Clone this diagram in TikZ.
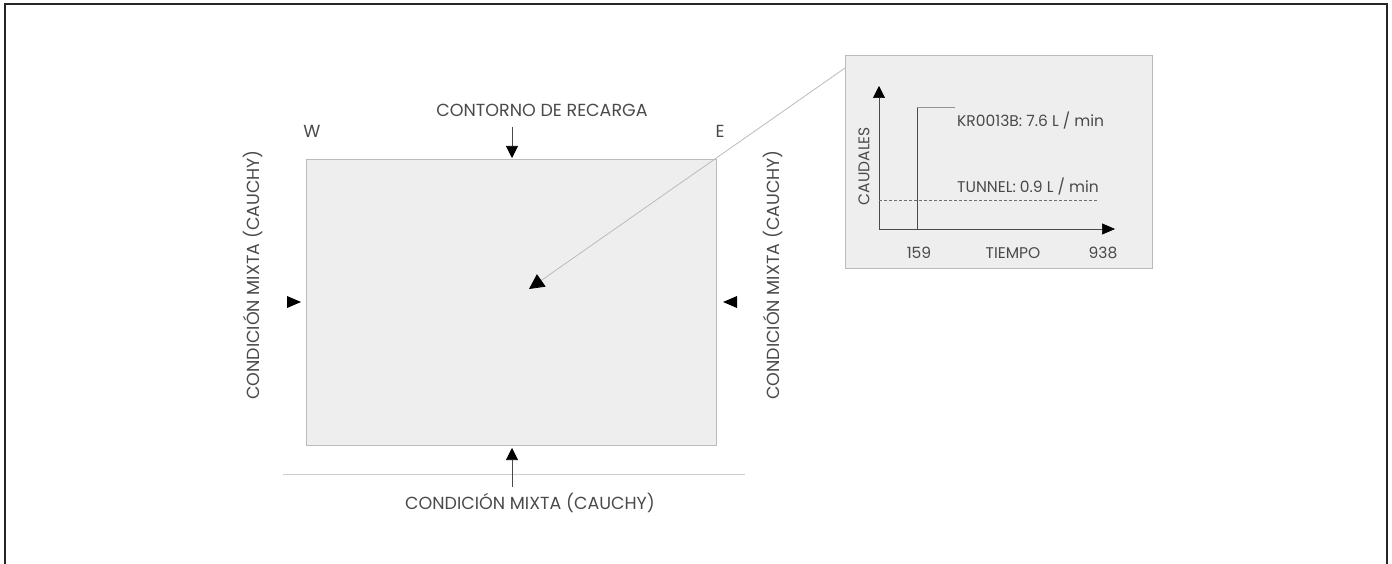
\documentclass[tikz,border=0pt]{standalone}
\usepackage{fontspec}
\setmainfont{Poppins}
\usetikzlibrary{arrows.meta}
\definecolor{boxfill}{HTML}{EEEEEE}
\definecolor{boxline}{HTML}{BBBBBB}
\definecolor{txt}{HTML}{4A4A4A}
\begin{document}
\begin{tikzpicture}[x=1pt,y=-1pt,
  lbl/.style={text=txt,font=\fontsize{17.5}{20}\selectfont,inner sep=0pt},
  small/.style={text=txt,font=\fontsize{15.5}{18}\selectfont,inner sep=0pt},
  arr/.style={draw=txt,line width=0.6pt,-{Triangle[length=12pt,width=12pt,color=black]}},
  panel/.style={draw=boxline,fill=boxfill,line width=1pt}]
\useasboundingbox (0,0) rectangle (1392,564);
\begin{scope}
\clip (0,0) rectangle (1392,564);
\draw[line width=2pt,black!85] (5,4.5) rectangle (1387,600);
\end{scope}
% main box
\node[panel,minimum width=410pt,minimum height=286pt,inner sep=0pt,anchor=north west] (dom) at (306,159) {};
\draw[boxline!70,line width=0.6pt] (283,474) -- (745,474);
% labels
\node[lbl] (top) at (542,110) {CONTORNO DE RECARGA};
\node[lbl] (W) at (312,131) {W};
\node[lbl] (E) at (720,131) {E};
\node[lbl,rotate=90] (lt) at (253,275) {CONDICIÓN MIXTA (CAUCHY)};
\node[lbl,rotate=90] (rt) at (773,275) {CONDICIÓN MIXTA (CAUCHY)};
\node[lbl] (bt) at (530,503) {CONDICIÓN MIXTA (CAUCHY)};
% boundary arrows
\coordinate (tA) at (512,127);
\coordinate (tB) at (512,158);
\draw[arr] (tA) -- (tB);
\coordinate (bA) at (512,487);
\coordinate (bB) at (512,448);
\draw[arr] (bA) -- (bB);
\fill[black] (287,296) -- (301,302) -- (287,308) -- cycle;
\fill[black] (737,296) -- (723,302) -- (737,308) -- cycle;
% inset
\node[panel,minimum width=307pt,minimum height=213pt,inner sep=0pt,anchor=north west] (ins) at (845,55) {};
\coordinate (c0) at (845,68);
\coordinate (c1) at (529,289);
\draw[boxline,line width=0.8pt,-{Triangle[length=15pt,width=15pt,color=black]}] (c0) -- (c1);
% axes
\coordinate (o) at (879,229);
\coordinate (ya) at (879,86);
\coordinate (xa) at (1115,229);
\draw[txt,line width=0.6pt,-{Triangle[length=12pt,width=12pt,color=black]}] (o) -- (ya);
\draw[txt,line width=0.6pt,-{Triangle[length=13pt,width=11pt,color=black]}] (o) -- (xa);
\draw[txt,line width=0.6pt] (917,229) -- (917,107);
\draw[txt!60,line width=0.6pt] (917,107) -- (955,107);
\draw[txt!80,line width=0.6pt,dash pattern=on 3pt off 2pt] (879,200) -- (1097,200);
\node[small,anchor=west] (kr) at (957,121) {KR0013B: 7.6 L / min};
\node[small,anchor=west] (tu) at (957,187) {TUNNEL: 0.9 L / min};
\node[small,rotate=90] (ca) at (864,166) {CAUDALES};
\node[small] (n159) at (919,253) {159};
\node[small] (tiempo) at (1013,253) {TIEMPO};
\node[small] (n938) at (1103,253) {938};
\end{tikzpicture}
\end{document}
